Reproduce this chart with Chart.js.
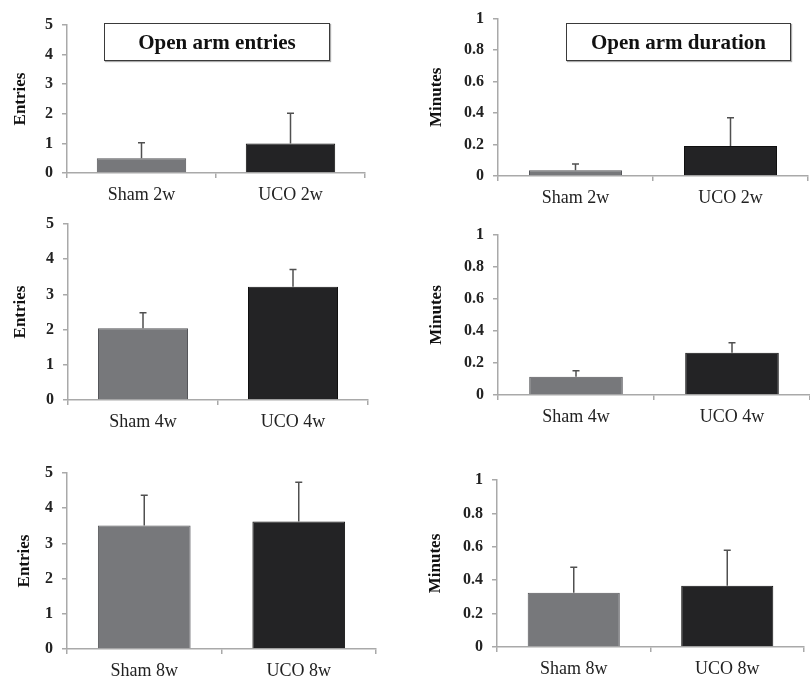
<!DOCTYPE html>
<html>
<head>
<meta charset="utf-8">
<script src="https://cdn.jsdelivr.net/npm/chart.js@4"></script>
<style>
  html, body { margin: 0; padding: 0; background: #fff; }
  #stage { position: relative; width: 810px; height: 684px; overflow: hidden; }
  #stage canvas { position: absolute; }
  .title-box {
    position: absolute; box-sizing: border-box; border: 1.5px solid #3a3a3a;
    box-shadow: 1px 1px 1px #aaa; background: #fff;
    font: bold 21px "Liberation Serif", "Times New Roman", serif; color: #111;
    display: flex; align-items: center; justify-content: center;
  }
</style>
</head>
<body>
<div id="stage">
  <canvas id="c1" width="400" height="205" style="left:0;top:0"></canvas>
  <canvas id="c2" width="410" height="205" style="left:400px;top:0"></canvas>
  <canvas id="c3" width="400" height="235" style="left:0;top:205px"></canvas>
  <canvas id="c4" width="410" height="235" style="left:400px;top:205px"></canvas>
  <canvas id="c5" width="400" height="244" style="left:0;top:440px"></canvas>
  <canvas id="c6" width="410" height="244" style="left:400px;top:440px"></canvas>
  <div class="title-box" style="left:104px;top:23px;width:226px;height:38px">Open arm entries</div>
  <div class="title-box" style="left:566px;top:23px;width:225px;height:38px">Open arm duration</div>
</div>
<script>
(function () {
    'use strict';

    // group labels per time point
    const groups2w = ['Sham 2w', 'UCO 2w'];
    const groups4w = ['Sham 4w', 'UCO 4w'];
    const groups8w = ['Sham 8w', 'UCO 8w'];

    // open arm entries (mean, upper error)
    const entries2w = [0.5, 1.0];
    const entriesErr2w = [0.52, 1.02];
    const entries4w = [2.04, 3.22];
    const entriesErr4w = [0.44, 0.49];
    const entries8w = [3.51, 3.62];
    const entriesErr8w = [0.86, 1.12];

    // open arm duration in minutes (mean, upper error)
    const duration2w = [0.037, 0.19];
    const durationErr2w = [0.04, 0.18];
    const duration4w = [0.114, 0.264];
    const durationErr4w = [0.038, 0.063];
    const duration8w = [0.325, 0.367];
    const durationErr8w = [0.152, 0.213];

    const entriesTicks = { max: 5, step: 1 };
    const minutesTicks = { max: 1, step: 0.2 };

    const barColors = ['#77787b', '#232325'];
    const barEdges = ['#55565a', '#101010'];
    const axisColor = '#a9a9a9';
    const serif = '"Liberation Serif", "Times New Roman", serif';

    const errorBars = {
        id: 'errorBars',
        afterDatasetsDraw(chart) {
            const ds = chart.data.datasets[0];
            const meta = chart.getDatasetMeta(0);
            const yScale = chart.scales.y;
            const ctx = chart.ctx;
            ctx.save();
            ctx.strokeStyle = '#505050';
            ctx.lineWidth = 1.5;
            meta.data.forEach(function (bar, i) {
                const top = yScale.getPixelForValue(ds.data[i] + ds.errors[i]);
                ctx.beginPath();
                ctx.moveTo(bar.x, bar.y);
                ctx.lineTo(bar.x, top);
                ctx.moveTo(bar.x - 3.5, top);
                ctx.lineTo(bar.x + 3.5, top);
                ctx.stroke();
            });
            ctx.restore();
        }
    };

    // page position of each canvas and of its plot area [left, right, top, bottom]
    function makeChart(id, pos, area, labels, values, errors, yTitle, ticks, titlePad) {
        const ctx = document.getElementById(id);
        new Chart(ctx, {
            type: 'bar',
            data: {
                labels: labels,
                datasets: [{
                    data: values,
                    errors: errors,
                    backgroundColor: barColors,
                    borderColor: barEdges,
                    borderWidth: 1,
                    barPercentage: 0.6,
                    categoryPercentage: 1,
                }],
            },
            options: {
                responsive: false,
                animation: false,
                events: [],
                layout: {
                    padding: {
                        left: 0,
                        top: area[2] - pos[1],
                        right: pos[0] + pos[2] - area[1],
                        bottom: 0,
                    },
                },
                plugins: { legend: { display: false }, tooltip: { enabled: false } },
                scales: {
                    x: {
                        afterFit: function (scale) { scale.height = pos[1] + pos[3] - area[3]; },
                        grid: { drawOnChartArea: false, color: axisColor, tickLength: 5, lineWidth: 1.5 },
                        border: { color: axisColor, width: 1.5 },
                        ticks: {
                            color: '#222', padding: 6, maxRotation: 0,
                            font: { family: serif, size: 18 },
                        },
                    },
                    y: {
                        min: 0,
                        max: ticks.max,
                        afterFit: function (scale) { scale.width = area[0] - pos[0]; },
                        grid: { drawOnChartArea: false, color: axisColor, tickLength: 5, lineWidth: 1.5 },
                        border: { color: axisColor, width: 1.5 },
                        ticks: {
                            stepSize: ticks.step, color: '#222', padding: 9,
                            font: { family: serif, size: 16, weight: 'bold' },
                            callback: function (v) { return String(Math.round(v * 10) / 10); },
                        },
                        title: {
                            display: true, text: yTitle, color: '#111',
                            padding: { top: titlePad, bottom: 0 },
                            font: { family: serif, size: 17, weight: 'bold' },
                        },
                    },
                },
            },
            plugins: [errorBars],
        });
    }

    makeChart('c1', [0, 0, 400, 205], [67, 365, 25, 173], groups2w, entries2w, entriesErr2w, 'Entries', entriesTicks, 10);
    makeChart('c2', [400, 0, 410, 205], [498, 808, 12, 176], groups2w, duration2w, durationErr2w, 'Minutes', minutesTicks, 26);
    makeChart('c3', [0, 205, 400, 235], [68, 368, 224, 400], groups4w, entries4w, entriesErr4w, 'Entries', entriesTicks, 10);
    makeChart('c4', [400, 205, 410, 235], [498, 810, 235, 395], groups4w, duration4w, durationErr4w, 'Minutes', minutesTicks, 26);
    makeChart('c5', [0, 440, 400, 244], [67, 376, 473, 649], groups8w, entries8w, entriesErr8w, 'Entries', entriesTicks, 14);
    makeChart('c6', [400, 440, 410, 244], [497, 804, 480, 647], groups8w, duration8w, durationErr8w, 'Minutes', minutesTicks, 25);
})();
</script>
</body>
</html>
